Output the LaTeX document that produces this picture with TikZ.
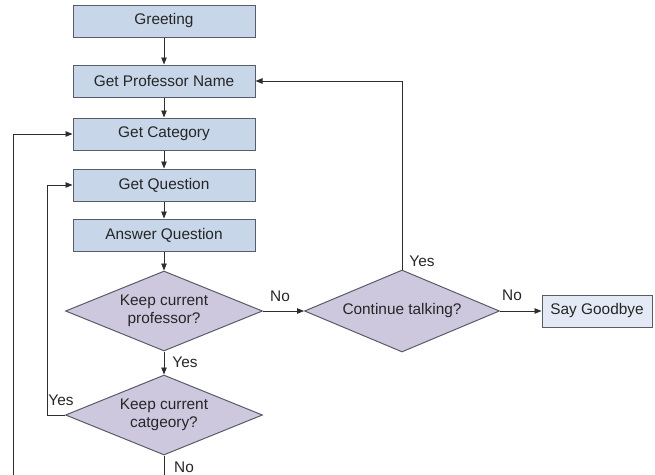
\documentclass[tikz,border=0pt]{standalone}
\usepackage{fontspec}
\setmainfont{Liberation Sans}
\usetikzlibrary{shapes.geometric,arrows.meta}
\definecolor{stepblue}{RGB}{199,214,233}
\definecolor{endblue}{RGB}{228,234,245}
\definecolor{choicelilac}{RGB}{206,200,223}
\definecolor{edgegrey}{RGB}{88,92,102}
\definecolor{linegrey}{RGB}{45,45,45}

\begin{document}
\begin{tikzpicture}[x=1pt,y=-1pt,font=\fontsize{15.4}{18}\selectfont,text=black!85,
		stepbox/.style={draw=edgegrey,fill=stepblue,line width=1pt,minimum width=182pt,minimum height=32pt,inner sep=0pt},
		endbox/.style={stepbox,fill=endblue,minimum width=110pt},
		choice/.style={diamond,draw=edgegrey,fill=choicelilac,line width=1pt,aspect=2.4,inner sep=0pt,minimum width=197pt,minimum height=80pt,align=center},
		flow/.style={draw=linegrey,line width=0.8pt,-{Triangle[length=7pt,width=5.5pt]}}]
		\useasboundingbox (0,0) rectangle (655,474);
		\clip (0,0) rectangle (655,474);
		\node[stepbox] (greet) at (164,21) {Greeting};
		\node[stepbox] (prof) at (164,81) {Get Professor Name};
		\node[stepbox] (categ) at (164,134) {Get Category};
		\node[stepbox] (quest) at (164,185) {Get Question};
		\node[stepbox] (answer) at (164,235) {Answer Question};
		\node[choice] (keepprof) at (164,311) {Keep current\\professor?};
		\node[choice] (keepcat) at (164,415) {Keep current\\catgeory?};
		\node[choice,minimum width=195pt,minimum height=82pt] (talk) at (402,311) {Continue talking?};
		\node[endbox] (bye) at (597,311) {Say Goodbye};
		\coordinate (loopbottom) at (13,482);
		\draw[flow] (greet) -- (prof);
		\draw[flow] (prof) -- (categ);
		\draw[flow] (categ) -- (quest);
		\draw[flow] (quest) -- (answer);
		\draw[flow] (answer) -- (keepprof);
		\draw[flow] (keepprof) -- (keepcat);
		\draw[flow] (keepprof) -- (talk);
		\draw[flow] (talk) -- (bye);
		\draw[flow] (talk.north) |- (prof.east);
		\draw[flow] (keepcat.west) -- ++(-18,0) |- (quest.west);
		\draw[flow] (keepcat.south) |- (loopbottom) |- (categ.west);
		\node (noprof) at (280,296) {No};
		\node (yestalk) at (422,261) {Yes};
		\node (notalk) at (512,295) {No};
		\node (yesprof) at (185,362) {Yes};
		\node (yescat) at (61,400) {Yes};
		\node (nocat) at (184,467) {No};
	\end{tikzpicture}
\end{document}
